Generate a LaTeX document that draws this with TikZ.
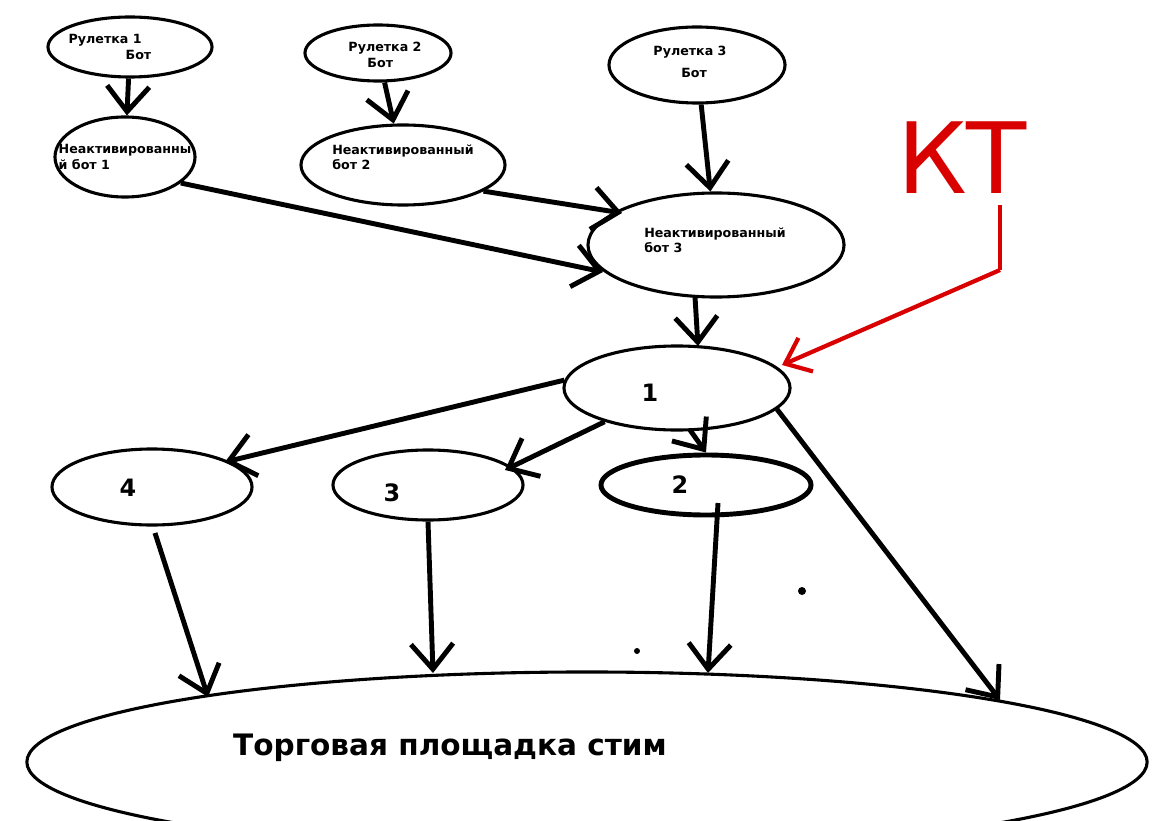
\documentclass[tikz,border=0pt]{standalone}
\usepackage{fontspec}
\setmainfont{DejaVu Sans}
\usetikzlibrary{shapes.geometric,arrows.meta}
\begin{document}
\begin{tikzpicture}[x=0.025cm,y=-0.025cm,
  ell/.style={ellipse,draw,line width=2.2pt,inner sep=0pt},
  sm/.style={font=\bfseries\fontsize{9}{11}\selectfont,align=left},
  big/.style={font=\bfseries\fontsize{17}{20}\selectfont},
  arr/.style={line width=3.5pt,-{Straight Barb[length=18pt,width=30pt,line width=3.5pt]}},
  redarr/.style={red!85!black,line width=3pt,-{Straight Barb[length=16pt,width=26pt,line width=3pt]}}]
\useasboundingbox (0,0) rectangle (1174,820);
\clip (0,0) rectangle (1174,820);
\node[ell,minimum width=4.1cm,minimum height=1.5cm] (r1) at (130,47) {};
\node[sm] at (110,47) {Рулетка 1\\\hspace*{4.5em}Бот};
\node[ell,minimum width=3.65cm,minimum height=1.4cm] (r2) at (378,53) {};
\node[sm] at (385,55) {Рулетка 2\\\hspace*{1.5em}Бот};
\node[ell,minimum width=4.4cm,minimum height=1.9cm] (r3) at (697,65) {};
\node[sm] at (690,62) {Рулетка 3\\[1ex]\hspace*{2.2em}Бот};
\node[ell,minimum width=3.5cm,minimum height=2cm] (n1) at (125,157) {};
\node[sm] at (125,157) {Неактивированны\\й бот 1};
\node[ell,minimum width=5.1cm,minimum height=2cm] (n2) at (403,165) {};
\node[sm] at (403,157) {Неактивированный\\бот 2};
\node[ell,minimum width=6.4cm,minimum height=2.6cm] (n3) at (716,245) {};
\node[sm] at (715,240) {Неактивированный\\бот 3};
\node[ell,minimum width=5.65cm,minimum height=2.1cm] (k1) at (677,388) {};
\node[big] at (650,393) {1};
\node[ell,minimum width=5cm,minimum height=1.9cm] (k4) at (152,487) {};
\node[big] at (128,488) {4};
\node[ell,minimum width=4.75cm,minimum height=1.75cm] (k3) at (428,485) {};
\node[big] at (392,493) {3};
\node[ell,line width=3.5pt,minimum width=5.25cm,minimum height=1.5cm] (k2) at (706,485) {};
\node[big] at (680,485) {2};
\node[ell,minimum width=28cm,minimum height=4.5cm] (m) at (587,762) {};
\node[font=\bfseries\fontsize{21}{25}\selectfont] at (450,748) {Торговая площадка стим};
\coordinate (m4) at (208,697);
\coordinate (m3) at (433,673);
\coordinate (m2) at (708,673);
\coordinate (m1) at (1000,700);
\coordinate (n3b) at (695,297);
\coordinate (k1t) at (698,346);
\draw[arr] (r1) -- (n1);
\draw[arr] (r2) -- (n2);
\draw[arr] (r3) -- (n3);
\draw[arr] (n1.-25) -- (603,272);
\draw[arr] (n2.-18) -- (622,213);
\draw[arr] (n3b) -- (k1t);
\draw[arr] (k1.176) -- (225,462);
\draw[arr] (k1.205) -- (505,470);
\draw[arr] (690,430) -- (k2.north);
\draw[arr] (155,533) -- (m4);
\draw[arr] (k3.south) -- (m3);
\draw[arr] (718,503) -- (m2);
\draw[arr] (k1.-12) -- (m1);
\node[red!85!black,font=\fontsize{70}{70}\selectfont] (kt) at (962,158) {КТ};
\coordinate (kta) at (1000,205);
\coordinate (ktb) at (1000,270);
\draw[red!85!black,line width=3pt] (kta) -- (ktb);
\draw[redarr] (ktb) -- (782,365);
\fill (802,591) circle (4);
\fill (637,651) circle (3);
\end{tikzpicture}
\end{document}
